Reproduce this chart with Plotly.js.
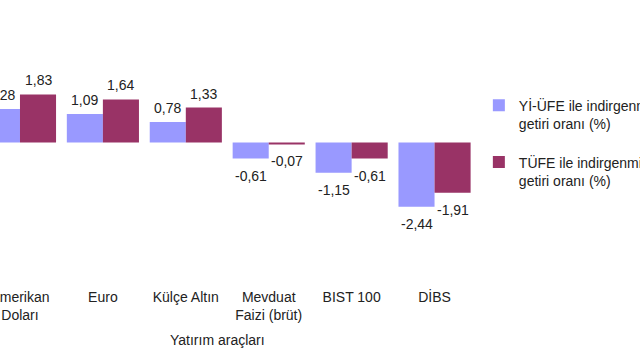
<!DOCTYPE html>
<html>
<head>
<meta charset="utf-8">
<script src="https://cdn.plot.ly/plotly-3.0.1.min.js"></script>
<style>html,body{margin:0;padding:0;background:#fff;}#chart{width:640px;height:360px;}</style>
</head>
<body>
<div id="chart"></div>
<script>
var categories = ["Amerikan<br>Doları", "Euro", "Külçe Altın", "Mevduat<br>Faizi (brüt)", "BIST 100", "DİBS"];
var yiUfeValues = [1.28, 1.09, 0.78, -0.61, -1.15, -2.44];
var tufeValues = [1.83, 1.64, 1.33, -0.07, -0.61, -1.91];
var seriesNames = ["Yİ-ÜFE ile indirgenmiş reel<br>getiri oranı (%)", "TÜFE ile indirgenmiş reel<br>getiri oranı (%)"];
var seriesColors = ['#9999FF', '#993366'];
var xAxisTitle = "Yatırım araçları";

var yMin = -5.34, yMax = 5.04;
var xMin = -0.241, xMax = categories.length - 0.5;
var bargap = 0.13;
var font = "Liberation Sans, Arial, sans-serif";
var fs = 14;
var txt = "#222";

var seriesList = [yiUfeValues, tufeValues];
var traces = seriesList.map(function (vals, s) {
  return {type: 'bar', name: seriesNames[s], x: categories, y: vals,
          marker: {color: seriesColors[s]}, legend: s === 0 ? 'legend' : 'legend2',
          hoverinfo: 'none'};
});

// data labels placed from the data arrays
var annotations = [];
var barW = (1 - bargap) / seriesList.length;
seriesList.forEach(function (vals, s) {
  var off = -(1 - bargap) / 2 + barW * (s + 0.5);
  vals.forEach(function (v, i) {
    annotations.push({
      xref: 'x', yref: 'y', x: i + off, y: v,
      text: v.toFixed(2).replace('.', ','), showarrow: false,
      xanchor: 'center', yanchor: 'middle', yshift: v >= 0 ? 14 : -17,
      font: {family: font, size: fs, color: txt}
    });
  });
});
annotations.push({text: xAxisTitle, xref: 'paper', yref: 'paper', x: 217 / 476, y: -(340 - 283) / 273,
                  xanchor: 'center', yanchor: 'middle', showarrow: false,
                  font: {family: font, size: fs, color: txt}});

var boundaries = [];
for (var i = 0; i <= categories.length; i++) boundaries.push(i - 0.5);

var layout = {
  width: 640, height: 360,
  margin: {l: 0, r: 164, t: 10, b: 77, pad: 0, autoexpand: false},
  paper_bgcolor: '#fff', plot_bgcolor: '#fff',
  separators: ',.',
  barmode: 'group', bargap: bargap, bargroupgap: 0,
  font: {family: font, size: fs, color: txt},
  xaxis: {type: 'category', categoryarray: categories, range: [xMin, xMax],
          showline: false, ticks: '', showgrid: false, zeroline: false, ticklabelstandoff: 4,
          tickfont: {family: font, size: fs, color: txt}},
  xaxis2: {overlaying: 'x', anchor: 'free', position: (0 - yMin) / (yMax - yMin),
           range: [xMin, xMax], type: 'linear', showline: true, linecolor: '#333', linewidth: 1,
           ticks: 'outside', ticklen: 5, tickcolor: '#333', tickwidth: 1,
           tickvals: boundaries, showticklabels: false, showgrid: false, zeroline: false},
  yaxis: {range: [yMin, yMax], visible: false, showgrid: false, zeroline: false},
  showlegend: true,
  legend: {x: 1.006, y: 0.708, xanchor: 'left', yanchor: 'top', valign: 'top',
           font: {family: font, size: fs, color: txt}, itemwidth: 30, bgcolor: 'rgba(0,0,0,0)'},
  legend2: {x: 1.006, y: 0.5, xanchor: 'left', yanchor: 'top', valign: 'top',
           font: {family: font, size: fs, color: txt}, itemwidth: 30, bgcolor: 'rgba(0,0,0,0)'},
  annotations: annotations
};

Plotly.newPlot('chart', traces, layout, {displayModeBar: false, staticPlot: true});
</script>
</body>
</html>
